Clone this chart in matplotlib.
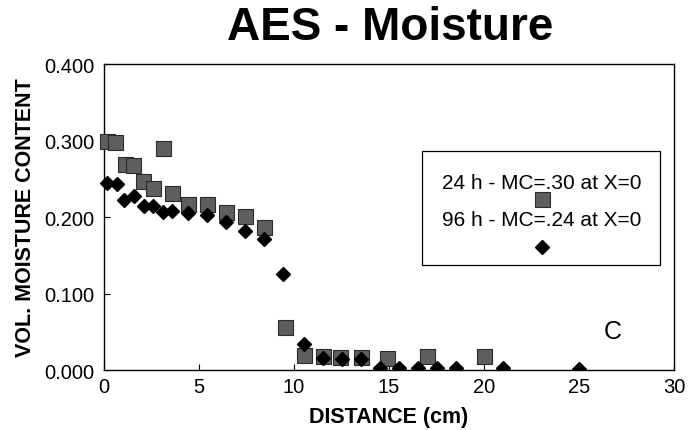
import matplotlib
matplotlib.use("Agg")
import matplotlib.pyplot as plt
from matplotlib.patches import Rectangle

plt.rcParams['font.family'] = ['Liberation Sans', 'DejaVu Sans']

# 24 h profile (squares)
dist_24h = [0.15, 0.6, 1.1, 1.5, 2.05, 2.6, 3.1, 3.6, 4.4, 5.4, 6.4, 7.4, 8.4,
            9.5, 10.5, 11.5, 12.4, 13.5, 14.9, 17.0, 20.0]
mc_24h = [0.300, 0.298, 0.270, 0.268, 0.247, 0.238, 0.290, 0.232, 0.217, 0.217,
          0.207, 0.202, 0.187, 0.056, 0.020, 0.018, 0.017, 0.017, 0.016, 0.018,
          0.018]

# 96 h profile (diamonds)
dist_96h = [0.15, 0.7, 1.05, 1.6, 2.1, 2.6, 3.1, 3.6, 4.4, 5.4, 6.4, 7.4, 8.4,
            9.4, 10.5, 11.5, 12.5, 13.5, 14.5, 15.5, 16.5, 17.5, 18.5, 21.0, 25.0]
mc_96h = [0.245, 0.243, 0.222, 0.228, 0.214, 0.215, 0.206, 0.208, 0.205, 0.203,
          0.193, 0.182, 0.171, 0.126, 0.034, 0.016, 0.015, 0.015, 0.003, 0.003,
          0.003, 0.003, 0.003, 0.003, 0.001]

x_ticks = [0, 5, 10, 15, 20, 25, 30]
y_ticks = [0.0, 0.1, 0.2, 0.3, 0.4]

label_24h = "24 h - MC=.30 at X=0"
label_96h = "96 h - MC=.24 at X=0"

sq_style = dict(marker='s', markersize=10.8, markerfacecolor='#5e5e5e',
                markeredgecolor='#2a2a2a', markeredgewidth=0.8, linestyle='none')
dm_style = dict(marker='D', markersize=7.6, markerfacecolor='black',
                markeredgecolor='black', linestyle='none')

fig = plt.figure(figsize=(6.88, 4.31), dpi=100)
ax = fig.add_axes([0.1512, 0.1392, 0.8285, 0.7098])

ax.plot(dist_24h, mc_24h, clip_on=False, zorder=3, **sq_style)
dm_line, = ax.plot(dist_96h, mc_96h, zorder=4, **dm_style)
# clip the diamonds only at the zero line
clip = Rectangle((-0.05, 0.0), 1.1, 1.2, transform=ax.transAxes)
dm_line.set_clip_path(clip)

ax.set_xlim(0, 30)
ax.set_ylim(0, 0.4)
ax.set_xticks(x_ticks)
ax.set_xticklabels([str(v) for v in x_ticks])
ax.set_yticks(y_ticks)
ax.set_yticklabels([f"{v:.3f}" for v in y_ticks])
ax.tick_params(direction='in', length=4, width=0.8, labelsize=14.5, colors='black')
ax.tick_params(axis='y', pad=7)
ax.tick_params(axis='x', pad=5)
for s in ax.spines.values():
    s.set_linewidth(1.0)
    s.set_color('black')

ax.set_xlabel("DISTANCE (cm)", fontsize=15.5, fontweight='bold', labelpad=7)
ax.set_ylabel("VOL. MOISTURE CONTENT", fontsize=15.5, fontweight='bold', labelpad=6)

fig.text(390 / 688, 1 - 28 / 431, "AES - Moisture", fontsize=33,
         fontweight='bold', ha='center', va='center')

ax.text(0.893, 0.127, "C", transform=ax.transAxes, fontsize=18,
        ha='center', va='center')

# legend box with each label above its marker
ax.add_patch(Rectangle((0.558, 0.343), 0.417, 0.373, transform=ax.transAxes,
                       facecolor='white', edgecolor='black', linewidth=0.9,
                       zorder=5))
ax.text(0.768, 0.614, label_24h, transform=ax.transAxes, fontsize=15,
        ha='center', va='center', zorder=6)
ax.plot([0.768], [0.559], transform=ax.transAxes, zorder=6, clip_on=False,
        **sq_style)
ax.text(0.768, 0.493, label_96h, transform=ax.transAxes, fontsize=15,
        ha='center', va='center', zorder=6)
ax.plot([0.768], [0.402], transform=ax.transAxes, zorder=6, clip_on=False,
        **dm_style)

fig.savefig("out.png", dpi=100, facecolor='white')
